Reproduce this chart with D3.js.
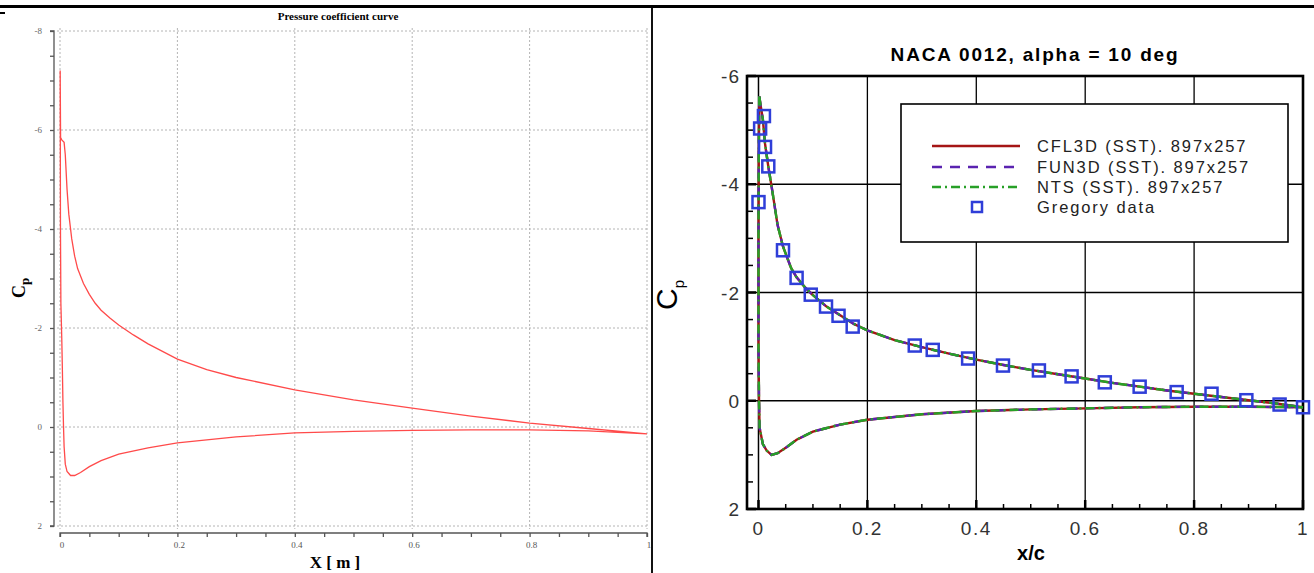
<!DOCTYPE html>
<html>
<head>
<meta charset="utf-8">
<script src="https://cdn.jsdelivr.net/npm/d3@7"></script>
<style>
  html, body { margin: 0; padding: 0; background: #fff; }
  svg { display: block; }
</style>
</head>
<body>
<svg id="chart" width="1314" height="573"></svg>
<script>
// left panel: one closed Cp loop, lower surface TE -> LE then upper surface LE -> TE
var leftX  = [1.0, 0.9, 0.8, 0.7, 0.6, 0.5, 0.4, 0.3, 0.2, 0.15, 0.1, 0.07, 0.05, 0.035, 0.025, 0.018, 0.012, 0.009, 0.007, 0.006, 0.005, 0.004, 0.003, 0.0015, 0.0008, 0.0005, 0.0003,
              0.001, 0.003, 0.007, 0.009, 0.012, 0.015, 0.02, 0.025, 0.03, 0.04, 0.05, 0.06, 0.07, 0.085, 0.1, 0.125, 0.15, 0.2, 0.25, 0.3, 0.4, 0.5, 0.6, 0.7, 0.8, 0.9, 1.0]
var leftCp = [0.14, 0.08, 0.06, 0.06, 0.07, 0.09, 0.12, 0.2, 0.32, 0.42, 0.55, 0.68, 0.8, 0.92, 0.98, 0.98, 0.9, 0.75, 0.4, 0.0, -0.5, -1.2, -1.8, -2.5, -4.0, -6.0, -7.2,
              -5.85, -5.8, -5.75, -5.5, -4.8, -4.3, -3.8, -3.45, -3.2, -2.9, -2.68, -2.5, -2.36, -2.2, -2.06, -1.86, -1.68, -1.37, -1.16, -1.0, -0.75, -0.55, -0.38, -0.22, -0.08, 0.03, 0.14]
var leftXTicks = [0, 0.2, 0.4, 0.6, 0.8, 1]
var leftYTicks = [-8, -6, -4, -2, 0, 2]

// right panel: computed curves (the three codes overlap), and Gregory data
var upperX  = [0.0015, 0.004, 0.008, 0.012, 0.018, 0.025, 0.035, 0.045, 0.06, 0.07, 0.085, 0.1, 0.125, 0.15, 0.175, 0.2, 0.25, 0.3, 0.35, 0.4, 0.45, 0.5, 0.55, 0.6, 0.65, 0.7, 0.75, 0.8, 0.85, 0.9, 0.95, 1.0]
var upperCp = [-5.62, -5.45, -5.2, -4.75, -4.33, -3.9, -3.25, -2.85, -2.45, -2.28, -2.1, -1.95, -1.74, -1.58, -1.42, -1.3, -1.12, -0.99, -0.87, -0.76, -0.66, -0.57, -0.49, -0.41, -0.33, -0.26, -0.19, -0.13, -0.07, -0.01, 0.05, 0.12]
var lowerX  = [0.0015, 0.0005, 0.0, 0.0, 0.001, 0.002, 0.008, 0.015, 0.024, 0.035, 0.05, 0.07, 0.1, 0.15, 0.2, 0.3, 0.4, 0.5, 0.6, 0.7, 0.8, 0.9, 1.0]
var lowerCp = [-5.62, -4.5, -3.0, -1.0, 0.0, 0.5, 0.8, 0.92, 1.0, 0.97, 0.87, 0.72, 0.57, 0.44, 0.35, 0.25, 0.19, 0.16, 0.14, 0.12, 0.11, 0.11, 0.12]
var gregoryX  = [0.0, 0.003, 0.01, 0.012, 0.018, 0.045, 0.07, 0.096, 0.124, 0.147, 0.173, 0.287, 0.32, 0.385, 0.449, 0.515, 0.575, 0.636, 0.70, 0.768, 0.832, 0.896, 0.957, 1.0]
var gregoryCp = [-3.67, -5.03, -5.26, -4.69, -4.33, -2.78, -2.27, -1.96, -1.74, -1.57, -1.37, -1.02, -0.94, -0.78, -0.65, -0.56, -0.45, -0.34, -0.26, -0.16, -0.13, -0.01, 0.07, 0.12]
var rightXTicks = [0, 0.2, 0.4, 0.6, 0.8, 1]
var rightYTicks = [-6, -4, -2, 0, 2]
var seriesNames = ['CFL3D (SST). 897x257', 'FUN3D (SST). 897x257', 'NTS (SST). 897x257', 'Gregory data']

var svg = d3.select('#chart')

// frame pieces of the page
svg.append('rect').attr('x', 0).attr('y', 5).attr('width', 1314).attr('height', 3).attr('fill', '#000')
svg.append('rect').attr('x', 0).attr('y', 12).attr('width', 5).attr('height', 2).attr('fill', '#000')
svg.append('rect').attr('x', 651).attr('y', 8).attr('width', 2).attr('height', 565).attr('fill', '#111')

function pts(xs, ys) {
  return xs.map(function(d, i){ return [d, ys[i]] })
}

// ---------- left panel ----------
var xL = d3.scaleLinear().domain([0, 1]).range([60, 647])
var yL = d3.scaleLinear().domain([-8, 2]).range([31, 526])
var left = svg.append('g')

left.append('text')
  .attr('x', 338).attr('y', 20)
  .attr('text-anchor', 'middle')
  .attr('font-family', 'Liberation Serif').attr('font-weight', 'bold').attr('font-size', 11)
  .text('Pressure coefficient curve')

// dotted grid
left.selectAll('.gx').data(leftXTicks).enter().append('line')
  .attr('x1', function(d){ return xL(d) }).attr('x2', function(d){ return xL(d) })
  .attr('y1', 28).attr('y2', 529)
  .attr('stroke', '#b4b4b4').attr('stroke-dasharray', '2,2')
left.selectAll('.gy').data(leftYTicks).enter().append('line')
  .attr('x1', 57).attr('x2', 649)
  .attr('y1', function(d){ return yL(d) }).attr('y2', function(d){ return yL(d) })
  .attr('stroke', '#b4b4b4').attr('stroke-dasharray', '2,2')

var axisL = left.append('g').attr('transform', 'translate(54,0)')
  .call(d3.axisLeft(yL).tickValues(d3.range(-8, 2.01, 0.5)).tickSize(4).tickFormat(''))
axisL.select('.domain').attr('d', 'M-4,31H0V526H-4')
axisL.selectAll('line, path').attr('stroke', '#555').attr('stroke-width', 1.3)
left.selectAll('.ylab').data(leftYTicks).enter().append('text')
  .attr('x', 42).attr('y', function(d){ return yL(d) + 3 })
  .attr('text-anchor', 'end')
  .attr('font-family', 'Liberation Serif').attr('font-size', 9).attr('fill', '#666')
  .text(function(d){ return d })

var axisB = left.append('g').attr('transform', 'translate(0,533)')
  .call(d3.axisBottom(xL).tickValues(d3.range(0, 1.001, 0.05)).tickSize(4).tickFormat(''))
axisB.select('.domain').attr('d', 'M60,4V0H647V4')
axisB.selectAll('line, path').attr('stroke', '#555').attr('stroke-width', 1.3)
left.selectAll('.xlab').data(leftXTicks).enter().append('text')
  .attr('x', function(d){ return xL(d) + 2 }).attr('y', 548)
  .attr('text-anchor', 'middle')
  .attr('font-family', 'Liberation Serif').attr('font-size', 9).attr('fill', '#555')
  .text(function(d){ return d })

left.append('text')
  .attr('x', 335).attr('y', 568)
  .attr('text-anchor', 'middle')
  .attr('font-family', 'Liberation Serif').attr('font-weight', 'bold').attr('font-size', 17)
  .text('X [ m ]')

var cpL = left.append('text')
  .attr('transform', 'translate(25,298) rotate(-90)')
  .attr('font-family', 'Liberation Serif').attr('font-weight', 'bold').attr('font-size', 18)
cpL.append('tspan').text('C')
cpL.append('tspan').attr('font-size', 13).attr('dy', 4).text('p')

left.append('path')
  .datum(pts(leftX, leftCp))
  .attr('fill', 'none').attr('stroke', '#ff4a4a').attr('stroke-width', 1.3)
  .attr('d', d3.line().x(function(d){ return xL(d[0]) }).y(function(d){ return yL(d[1]) }))

// ---------- right panel ----------
var xR = d3.scaleLinear().domain([-0.0211, 1]).range([747, 1303])
var yR = d3.scaleLinear().domain([-6, 2]).range([76, 509])
var right = svg.append('g')

right.append('text')
  .attr('x', 1035).attr('y', 61)
  .attr('text-anchor', 'middle')
  .attr('font-family', 'Liberation Sans').attr('font-weight', 'bold').attr('font-size', 19)
  .attr('letter-spacing', 1.8)
  .text('NACA 0012, alpha = 10 deg')

// grid
right.selectAll('.gx').data(rightXTicks.slice(0, 5)).enter().append('line')
  .attr('x1', function(d){ return xR(d) }).attr('x2', function(d){ return xR(d) })
  .attr('y1', yR(-6)).attr('y2', yR(2))
  .attr('stroke', '#000').attr('stroke-width', function(d){ return d === 0 ? 1.5 : 1.3 })
right.selectAll('.gy').data([-4, -2, 0]).enter().append('line')
  .attr('x1', 747).attr('x2', 1303)
  .attr('y1', function(d){ return yR(d) }).attr('y2', function(d){ return yR(d) })
  .attr('stroke', '#000').attr('stroke-width', 1.3)

// inward ticks
var xMinor = d3.range(0, 1.001, 0.05)
right.selectAll('.tx').data(xMinor).enter().append('line')
  .attr('x1', function(d){ return xR(d) }).attr('x2', function(d){ return xR(d) })
  .attr('y1', yR(2)).attr('y2', function(d, i){ return yR(2) - (i % 4 === 0 ? 9 : 5) })
  .attr('stroke', '#000').attr('stroke-width', function(d, i){ return i % 4 === 0 ? 2.5 : 1.5 })
var yMinor = d3.range(-6, 2.001, 0.5)
right.selectAll('.ty').data(yMinor).enter().append('line')
  .attr('x1', 747).attr('x2', function(d, i){ return 747 + (i % 4 === 0 ? 9 : 6) })
  .attr('y1', function(d){ return yR(d) }).attr('y2', function(d){ return yR(d) })
  .attr('stroke', '#000').attr('stroke-width', function(d, i){ return i % 4 === 0 ? 2.5 : 1.5 })

right.append('rect')
  .attr('x', 747).attr('y', yR(-6)).attr('width', 1303 - 747).attr('height', yR(2) - yR(-6))
  .attr('fill', 'none').attr('stroke', '#000').attr('stroke-width', 2.6)

right.selectAll('.ylab').data(rightYTicks).enter().append('text')
  .attr('x', 740).attr('y', function(d){ return yR(d) + 7 })
  .attr('text-anchor', 'end')
  .attr('font-family', 'Liberation Sans').attr('font-size', 19).attr('fill', '#333')
  .attr('letter-spacing', 1)
  .text(function(d){ return d })
right.selectAll('.xlab').data(rightXTicks).enter().append('text')
  .attr('x', function(d){ return xR(d) }).attr('y', 535)
  .attr('text-anchor', 'middle')
  .attr('font-family', 'Liberation Sans').attr('font-size', 19).attr('fill', '#333')
  .attr('letter-spacing', 1.5)
  .text(function(d){ return d })

right.append('text')
  .attr('x', 1031).attr('y', 560)
  .attr('text-anchor', 'middle')
  .attr('font-family', 'Liberation Sans').attr('font-weight', 'bold').attr('font-size', 20)
  .text('x/c')

var cpR = right.append('text')
  .attr('transform', 'translate(677,310) rotate(-90)')
  .attr('font-family', 'Liberation Sans').attr('font-size', 30)
cpR.append('tspan').text('C')
cpR.append('tspan').attr('font-size', 15).attr('dy', 7).text('p')

// curves
var lineR = d3.line().x(function(d){ return xR(d[0]) }).y(function(d){ return yR(d[1]) })
var styles = [
  {color: '#a51515', dash: null},
  {color: '#5a23b0', dash: '10,8'},
  {color: '#27a027', dash: '9,4,2,4'}
]
var curves = [pts(lowerX, lowerCp), pts(upperX, upperCp)]
styles.forEach(function(s){
  curves.forEach(function(c){
    right.append('path').datum(c)
      .attr('fill', 'none').attr('stroke', s.color).attr('stroke-width', 2.4)
      .attr('stroke-dasharray', s.dash)
      .attr('d', lineR)
  })
})

right.selectAll('.sq').data(pts(gregoryX, gregoryCp)).enter().append('rect')
  .attr('x', function(d){ return xR(d[0]) - 6 }).attr('y', function(d){ return yR(d[1]) - 6 })
  .attr('width', 12).attr('height', 12)
  .attr('fill', 'none').attr('stroke', '#2f3ed8').attr('stroke-width', 2.5)

// legend
var lg = right.append('g')
lg.append('rect').attr('x', 901).attr('y', 104).attr('width', 387).attr('height', 138)
  .attr('fill', '#fff').attr('stroke', '#000').attr('stroke-width', 1.6)
var rowY = [146, 167, 187, 207]
styles.forEach(function(s, i){
  lg.append('line').attr('x1', 932).attr('x2', 1020).attr('y1', rowY[i]).attr('y2', rowY[i])
    .attr('stroke', s.color).attr('stroke-width', 2.4).attr('stroke-dasharray', s.dash)
})
lg.append('rect').attr('x', 972).attr('y', 202).attr('width', 10).attr('height', 10)
  .attr('fill', 'none').attr('stroke', '#2f3ed8').attr('stroke-width', 2.5)
lg.selectAll('.lt').data(seriesNames).enter().append('text')
  .attr('x', 1037).attr('y', function(d, i){ return rowY[i] + 6 })
  .attr('font-family', 'Liberation Sans').attr('font-size', 16.5).attr('fill', '#222')
  .attr('letter-spacing', 1.9)
  .text(function(d){ return d })
</script>
</body>
</html>
